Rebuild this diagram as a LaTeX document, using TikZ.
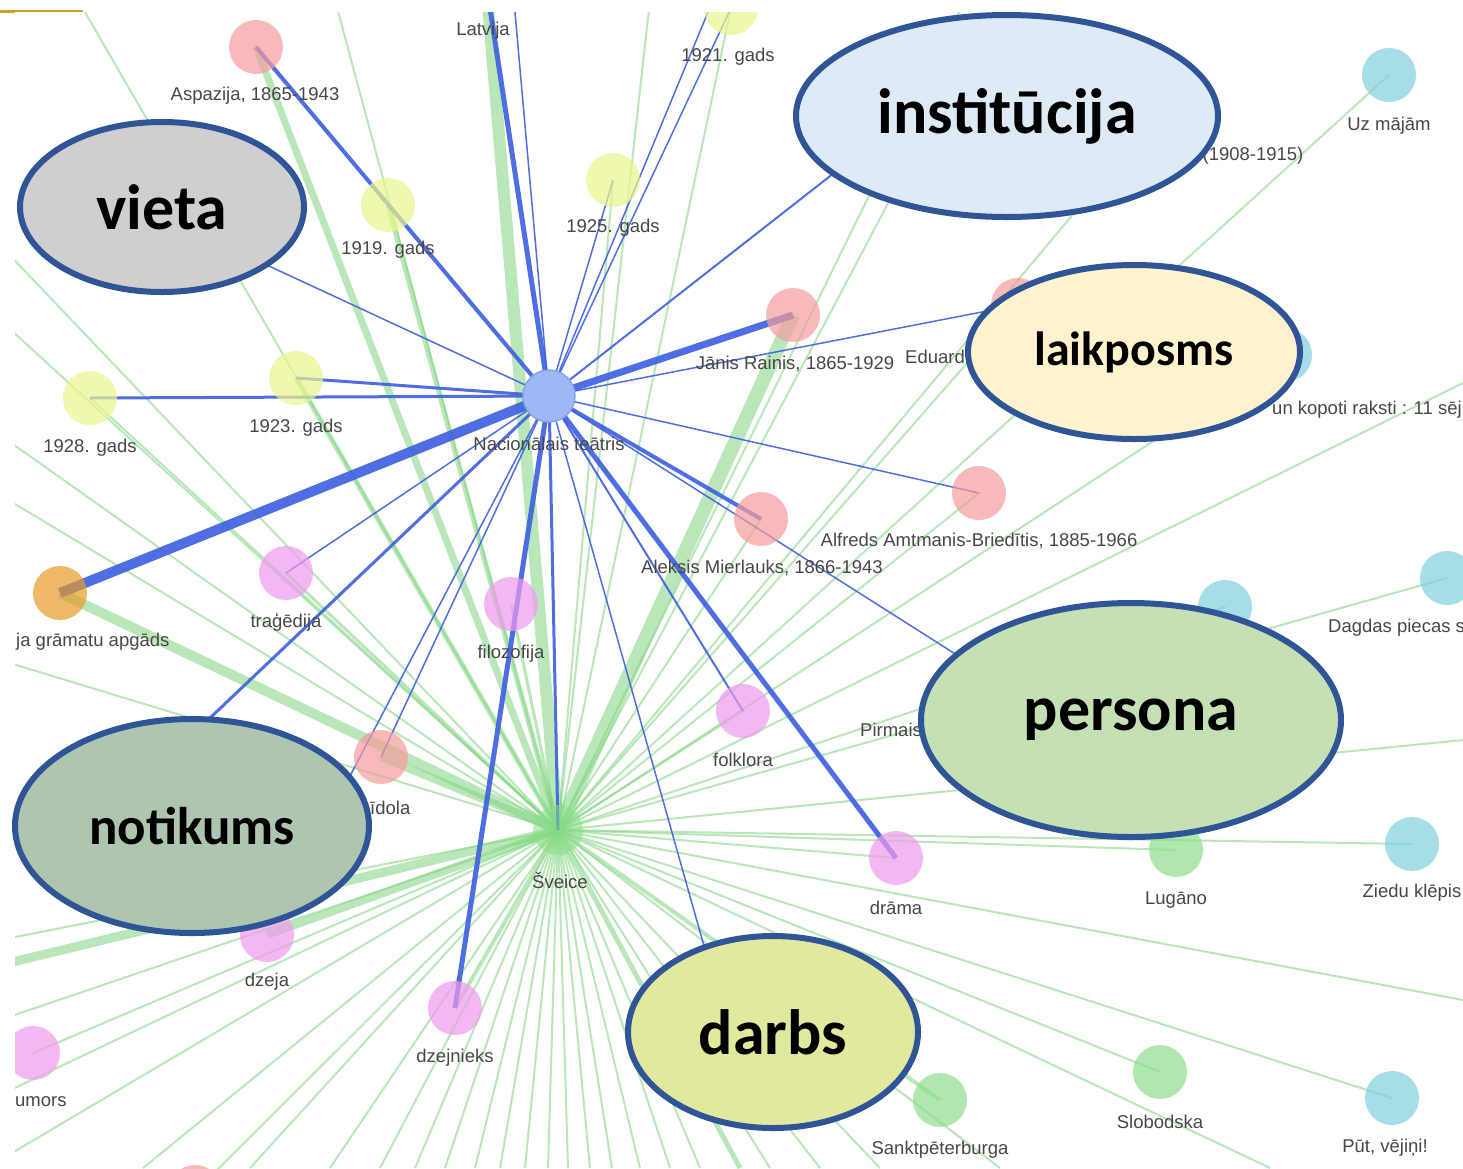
\documentclass[tikz,border=0pt]{standalone}
\usepackage{fontspec}
\setmainfont{Liberation Sans}
\newfontfamily\calib{Carlito}
\usetikzlibrary{shapes.geometric}
\definecolor{bline}{HTML}{3D5FE0}
\definecolor{gline}{HTML}{80D580}
\definecolor{lblgray}{HTML}{474747}
\definecolor{cborder}{HTML}{2F5597}
\definecolor{cred}{HTML}{F49C9C}
\definecolor{cyel}{HTML}{EBF68E}
\definecolor{cpink}{HTML}{EE9BEE}
\definecolor{ccyan}{HTML}{80D0DE}
\definecolor{cgreen}{HTML}{8EDE8E}
\definecolor{corange}{HTML}{E89B2A}
\definecolor{chub}{HTML}{9DB8F5}
\definecolor{chubb}{HTML}{86A4EC}
\definecolor{fvieta}{HTML}{D0CECE}
\definecolor{finst}{HTML}{DEEBF7}
\definecolor{flaik}{HTML}{FFF2CC}
\definecolor{fpers}{HTML}{C5E0B4}
\definecolor{fnot}{HTML}{AEC5AF}
\definecolor{fdarbs}{HTML}{E2E89E}
\definecolor{artif}{HTML}{C9A22E}
\tikzset{
  gedge/.style={draw=gline, line width=2pt, draw opacity=0.55},
  bedge/.style={draw=bline, line width=1.5pt, draw opacity=0.9},
  gn/.style={circle, inner sep=0pt, minimum size=54pt, fill opacity=0.7, draw=none},
  lbl/.style={font=\fontsize{18.5}{18.5}\selectfont, text=lblgray, inner sep=0pt},
  cat/.style={ellipse, draw=cborder, line width=6pt, inner sep=0pt, text=black,
              font=\calib\bfseries\fontsize{64}{64}\selectfont},
}
\begin{document}
\begin{tikzpicture}[x=1pt,y=-1pt]
\useasboundingbox (0,0) rectangle (1463,1168);
\fill[white] (0,0) rectangle (1463,1168);

\begin{scope}
\clip (15,12) rectangle (1463,1168);
% positions
\coordinate (hub) at (549,396);
\coordinate (sv) at (558,830);
\coordinate (asp) at (256,47);
\coordinate (y1919) at (388,205);
\coordinate (lat) at (486,-18);
\coordinate (lat2) at (513,-10);
\coordinate (y1921) at (731,8);
\coordinate (b21) at (713,0);
\coordinate (y1925) at (613,180);
\coordinate (uzm) at (1389,75);
\coordinate (rain) at (793,315);
\coordinate (red2) at (1018,305);
\coordinate (cy3) at (1285,355);
\coordinate (y1928) at (90,398);
\coordinate (y1923) at (296,378);
\coordinate (alf) at (979,493);
\coordinate (alek) at (761,519);
\coordinate (orng) at (60,593);
\coordinate (trag) at (286,573);
\coordinate (filo) at (511,604);
\coordinate (fol) at (743,711);
\coordinate (dram) at (896,858);
\coordinate (lug) at (1176,850);
\coordinate (zied) at (1412,844);
\coordinate (dag) at (1447,578);
\coordinate (cy2) at (1225,607);
\coordinate (idol) at (381,757);
\coordinate (dzeja) at (267,935);
\coordinate (dzn) at (455,1008);
\coordinate (hum) at (33,1053);
\coordinate (sank) at (940,1100);
\coordinate (slob) at (1160,1072);
\coordinate (put) at (1392,1098);
\coordinate (redb) at (195,1192);
% hidden ends
\coordinate (vH) at (200,234);
\coordinate (iH) at (880,137);
\coordinate (pH) at (990,676);
\coordinate (dH) at (715,985);
\coordinate (nH) at (190,737);
\coordinate (iH2) at (340,795);
\coordinate (gH) at (1110,170);
\coordinate (gL) at (0,965);
\coordinate (gB) at (740,1168);

% thin green rays to the frame
\foreach \px/\py [count=\n] in {78/0,335/0,650/0,965/0,995/0,
   0/245,0/320,0/435,0/495,0/660,0/940,0/1020,0/1095,0/1160,
   143/1168,250/1168,330/1168,380/1168,415/1168,445/1168,475/1168,500/1168,
   525/1168,548/1168,568/1168,590/1168,612/1168,640/1168,670/1168,700/1168,
   770/1168,820/1168,880/1168,1000/1168,1270/1168,
   1463/383,1463/740,1463/1000}{
  \coordinate (ray\n) at (\px,\py);
  \draw[gedge] (sv) -- (ray\n);
}
% thin green edges to nodes
\foreach \t in {uzm,cy3,dag,cy2,lug,zied,put,slob,dram,fol,alek,alf,y1925,y1928,hum,redb,y1921,red2,gH}{
  \draw[gedge] (sv) -- (\t);
}
% thicker green edges
\draw[gedge, line width=12pt] (sv) -- (lat);
\draw[gedge, line width=14pt] (sv) -- (rain);
\draw[gedge, line width=10pt] (sv) -- (orng);
\draw[gedge, line width=7pt] (sv) -- (asp);
\draw[gedge, line width=5pt] (sv) -- (y1919);
\draw[gedge, line width=5pt] (sv) -- (y1923);
\draw[gedge, line width=8pt] (sv) -- (idol);
\draw[gedge, line width=8pt] (sv) -- (dzeja);
\draw[gedge, line width=9pt] (sv) -- (gL);
\draw[gedge, line width=4pt] (sv) -- (dzn);
\draw[gedge, line width=4pt] (sv) -- (sank);
\draw[gedge, line width=5pt] (sv) -- (gB);
\draw[gedge, line width=3pt] (sv) -- (trag);
\draw[gedge, line width=3pt] (sv) -- (filo);

% blue edges
\draw[bedge, line width=4pt] (hub) -- (asp);
\draw[bedge, line width=5pt] (hub) -- (lat);
\draw[bedge] (hub) -- (lat2);
\draw[bedge] (hub) -- (y1921);
\draw[bedge] (hub) -- (b21);
\draw[bedge] (hub) -- (y1925);
\draw[bedge, line width=2pt] (hub) -- (iH);
\draw[bedge, line width=7pt] (hub) -- (rain);
\draw[bedge] (hub) -- (red2);
\draw[bedge] (hub) -- (alf);
\draw[bedge, line width=4pt] (hub) -- (alek);
\draw[bedge] (hub) -- (pH);
\draw[bedge, line width=5pt] (hub) -- (dram);
\draw[bedge, line width=2pt] (hub) -- (fol);
\draw[bedge] (hub) -- (dH);
\draw[bedge, line width=3pt] (hub) -- (sv);
\draw[bedge, line width=5pt] (hub) -- (dzn);
\draw[bedge] (hub) -- (idol);
\draw[bedge] (hub) -- (iH2);
\draw[bedge, line width=3pt] (hub) -- (nH);
\draw[bedge] (hub) -- (trag);
\draw[bedge, line width=10pt] (hub) -- (orng);
\draw[bedge, line width=3pt] (hub) -- (y1928);
\draw[bedge, line width=3pt] (hub) -- (y1923);
\draw[bedge] (hub) -- (vH);

% node circles
\node[gn, fill=cred] (nasp) at (asp) {};
\node[gn, fill=cyel] (n1919) at (y1919) {};
\node[gn, fill=cyel] (n1921) at (y1921) {};
\node[gn, fill=cyel] (n1925) at (y1925) {};
\node[gn, fill=ccyan] (nuzm) at (uzm) {};
\node[gn, fill=cred] (nrain) at (rain) {};
\node[gn, fill=cred] (nred2) at (red2) {};
\node[gn, fill=ccyan] (ncy3) at (cy3) {};
\node[gn, fill=cyel] (n1928) at (y1928) {};
\node[gn, fill=cyel] (n1923) at (y1923) {};
\node[gn, fill=cred] (nalf) at (alf) {};
\node[gn, fill=cred] (nalek) at (alek) {};
\node[gn, fill=corange] (norng) at (orng) {};
\node[gn, fill=cpink] (ntrag) at (trag) {};
\node[gn, fill=cpink] (nfilo) at (filo) {};
\node[gn, fill=cpink] (nfol) at (fol) {};
\node[gn, fill=cpink] (ndram) at (dram) {};
\node[gn, fill=cgreen] (nlug) at (lug) {};
\node[gn, fill=ccyan] (nzied) at (zied) {};
\node[gn, fill=ccyan] (ndag) at (dag) {};
\node[gn, fill=ccyan] (ncy2) at (cy2) {};
\node[gn, fill=cred] (nidol) at (idol) {};
\node[gn, fill=cpink] (ndzeja) at (dzeja) {};
\node[gn, fill=cpink] (ndzn) at (dzn) {};
\node[gn, fill=cpink] (nhum) at (hum) {};
\node[gn, fill=cgreen] (nsank) at (sank) {};
\node[gn, fill=cgreen] (nslob) at (slob) {};
\node[gn, fill=ccyan] (nput) at (put) {};
\node[gn, fill=cred] (nredb) at (redb) {};
\node[gn, fill=cgreen, fill opacity=0.55, minimum size=50pt] (nsv) at (sv) {};

% labels
\node[lbl] (tasp) at (255,96) {Aspazija, 1865-1943};
\node[lbl] (t1919) at (388,250) {1919. gads};
\node[lbl] (tlat) at (483,31) {Latvija};
\node[lbl] (t1921) at (728,57) {1921. gads};
\node[lbl] (t1925) at (613,228) {1925. gads};
\node[lbl] (tuzm) at (1389,126) {Uz mājām};
\node[lbl] (t1908) at (1253,156) {(1908-1915)};
\node[lbl] (train) at (795,364) {Jānis Rainis, 1865-1929};
\node[lbl, anchor=west] (tedu) at (905,357) {Eduard};
\node[lbl] (t1928) at (90,448) {1928. gads};
\node[lbl] (t1923) at (296,428) {1923. gads};
\node[lbl] (thub) at (549,444) {Nacionālais teātris};
\node[lbl, anchor=west] (tkop) at (1272,410) {un kopoti raksti : 11 sēj};
\node[lbl] (talf) at (979,541) {Alfreds Amtmanis-Briedītis, 1885-1966};
\node[lbl] (talek) at (762,568) {Aleksis Mierlauks, 1866-1943};
\node[lbl, anchor=west] (torng) at (16,642) {ja grāmatu apgāds};
\node[lbl] (ttrag) at (286,622) {traģēdija};
\node[lbl] (tfilo) at (511,654) {filozofija};
\node[lbl, anchor=west] (tdag) at (1328,628) {Dagdas piecas s};
\node[lbl] (tfol) at (743,760) {folklora};
\node[lbl, anchor=west] (tpirm) at (860,730) {Pirmais};
\node[lbl, anchor=west] (tidol) at (370,808) {īdola};
\node[lbl] (tsv) at (560,880) {Šveice};
\node[lbl] (tdram) at (896,908) {drāma};
\node[lbl] (tlug) at (1176,900) {Lugāno};
\node[lbl] (tzied) at (1412,893) {Ziedu klēpis};
\node[lbl] (tdzeja) at (267,982) {dzeja};
\node[lbl] (tdzn) at (455,1058) {dzejnieks};
\node[lbl, anchor=west] (thum) at (15,1102) {umors};
\node[lbl] (tsank) at (940,1150) {Sanktpēterburga};
\node[lbl] (tslob) at (1160,1122) {Slobodska};
\node[lbl] (tput) at (1385,1148) {Pūt, vējiņi!};

% hub
\node[circle, inner sep=0pt, minimum size=52pt, fill=chub, draw=chubb, line width=1.5pt] (nhub) at (hub) {};
\end{scope}

% category ellipses
\node[cat, fill=fvieta, minimum width=284pt, minimum height=170pt] (vieta) at (162,207) {vieta};
\node[cat, fill=finst, minimum width=422pt, minimum height=202pt] (inst) at (1007,116) {institūcija};
\node[cat, fill=flaik, minimum width=332pt, minimum height=174pt, font=\calib\bfseries\fontsize{48}{48}\selectfont] (laik) at (1134,352) {laikposms};
\node[cat, fill=fpers, minimum width=420pt, minimum height=234pt] (pers) at (1131,720) {persona};
\node[cat, fill=fnot, minimum width=354pt, minimum height=214pt, font=\calib\bfseries\fontsize{53}{53}\selectfont] (notik) at (192,826) {notikums};
\node[cat, fill=fdarbs, minimum width=290pt, minimum height=192pt] (darbs) at (773,1032) {darbs};

% top-left artefact line
\draw[artif, line width=3pt] (0,11) -- (15,11);
\draw[artif, line width=1.2pt] (15,11) -- (83,11);
\end{tikzpicture}
\end{document}
